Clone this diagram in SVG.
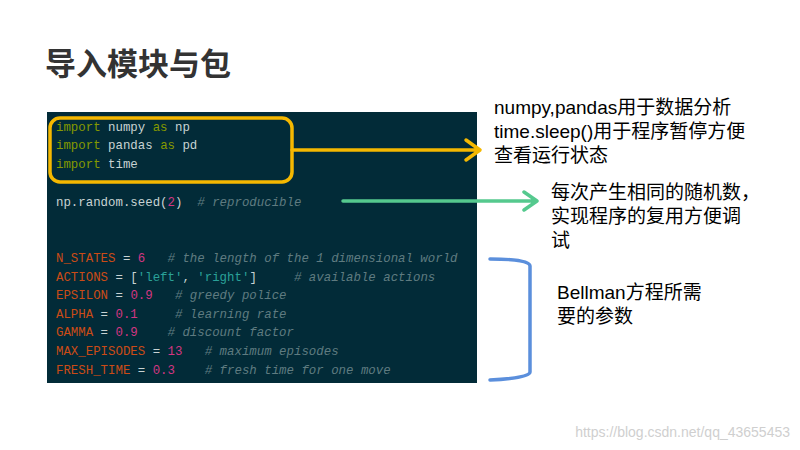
<svg xmlns="http://www.w3.org/2000/svg" width="800" height="450" viewBox="0 0 800 450">
<style>
.c{font-family:"Liberation Mono","DejaVu Sans Mono",monospace;font-size:12.4px;fill:#c8d3d3;white-space:pre}
.k{fill:#859900}.o{fill:#cb4b16}.p{fill:#d33682}.s{fill:#2aa198}.m{fill:#5f7b80;font-style:italic}
.t{font-family:"Liberation Sans","Noto Sans CJK SC",sans-serif;font-size:19px;fill:#000}
</style>
<rect width="800" height="450" fill="#fff"/>
<text x="45" y="75" font-family="'Noto Sans CJK SC',sans-serif" font-weight="bold" font-size="31" fill="#333">导入模块与包</text>
<g id="code">
<rect x="47" y="112" width="430" height="271" fill="#022b38"/>
<text class="c" x="56" y="131"><tspan class="k">import</tspan> numpy <tspan class="k">as</tspan> np</text>
<text class="c" x="56" y="149"><tspan class="k">import</tspan> pandas <tspan class="k">as</tspan> pd</text>
<text class="c" x="56" y="168"><tspan class="k">import</tspan> time</text>
<text class="c" x="56" y="206">np.random.seed(<tspan class="p">2</tspan>)  <tspan class="m"># reproducible</tspan></text>
<text class="c" x="56" y="262"><tspan class="o">N_STATES</tspan> = <tspan class="p">6</tspan>   <tspan class="m"># the length of the 1 dimensional world</tspan></text>
<text class="c" x="56" y="281"><tspan class="o">ACTIONS</tspan> = [<tspan class="s">'left'</tspan>, <tspan class="s">'right'</tspan>]     <tspan class="m"># available actions</tspan></text>
<text class="c" x="56" y="299"><tspan class="o">EPSILON</tspan> = <tspan class="p">0.9</tspan>   <tspan class="m"># greedy police</tspan></text>
<text class="c" x="56" y="318"><tspan class="o">ALPHA</tspan> = <tspan class="p">0.1</tspan>     <tspan class="m"># learning rate</tspan></text>
<text class="c" x="56" y="336"><tspan class="o">GAMMA</tspan> = <tspan class="p">0.9</tspan>    <tspan class="m"># discount factor</tspan></text>
<text class="c" x="56" y="355"><tspan class="o">MAX_EPISODES</tspan> = <tspan class="p">13</tspan>   <tspan class="m"># maximum episodes</tspan></text>
<text class="c" x="56" y="374"><tspan class="o">FRESH_TIME</tspan> = <tspan class="p">0.3</tspan>    <tspan class="m"># fresh time for one move</tspan></text>
</g>
<g id="connectors" fill="none" stroke-width="3.5" stroke-linecap="round" stroke-linejoin="round">
<rect x="50" y="118" width="242" height="64" rx="10" stroke="#f5b800"/>
<path d="M292 150H478M466 140L480 150L466 160" stroke="#f5b800"/>
<path d="M343 201H536M524 192L537 201L524 210" stroke="#55c98e"/>
<path d="M490 259Q530 259 530 266V372Q530 378 490 380" stroke="#5b8fdc"/>
</g>
<g id="labels">
<text class="t" x="494" y="114">numpy,pandas用于数据分析</text>
<text class="t" x="494" y="138">time.sleep()用于程序暂停方便</text>
<text class="t" x="494" y="162">查看运行状态</text>
<text class="t" x="551" y="199" font-size="18">每次产生相同的随机数，</text>
<text class="t" x="551" y="223" font-size="18">实现程序的复用方便调</text>
<text class="t" x="551" y="247" font-size="18">试</text>
<text class="t" x="557" y="299">Bellman方程所需</text>
<text class="t" x="557" y="323">要的参数</text>
<text x="790" y="437" text-anchor="end" font-family="'Liberation Sans',sans-serif" font-size="14" fill="#cfcfcf">https://blog.csdn.net/qq_43655453</text>
</g>
</svg>
